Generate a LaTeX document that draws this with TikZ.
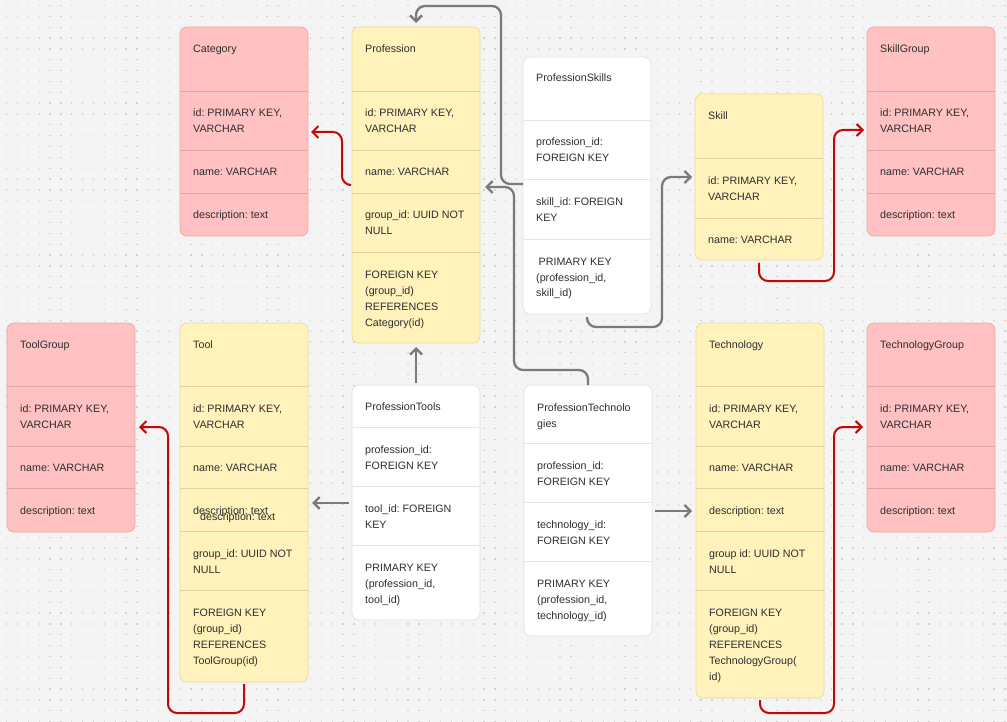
\documentclass[tikz,border=0pt]{standalone}
\usepackage{fontspec}
\setmainfont{Liberation Sans}
\usepackage{tikz}
\usetikzlibrary{arrows.meta}
\frenchspacing

\definecolor{canvas}{HTML}{F4F4F4}
\definecolor{dotgrey}{HTML}{D2D2D2}
\definecolor{ink}{HTML}{2E2E2E}
\definecolor{pinkfill}{HTML}{FFC1C1}
\definecolor{pinkline}{HTML}{EBA9A9}
\definecolor{pinkrule}{HTML}{E2A4A4}
\definecolor{yelfill}{HTML}{FFF2BA}
\definecolor{yelline}{HTML}{E8DCA2}
\definecolor{yelrule}{HTML}{E0D3A0}
\definecolor{whtfill}{HTML}{FFFFFF}
\definecolor{whtline}{HTML}{E0E0E0}
\definecolor{whtrule}{HTML}{E6E6E6}
\definecolor{linkgrey}{HTML}{7A7A7A}
\definecolor{linkred}{HTML}{C40808}

\begin{document}
\begin{tikzpicture}[x=1pt, y=-1pt,
    tbl/.style={draw=#1line, fill=#1fill, rounded corners=7pt, line width=0.7pt,
      anchor=north west, inner sep=0pt, outer sep=0pt, minimum width=128pt},
    rowline/.style={draw=#1rule, line width=0.9pt},
    txt/.style={anchor=base west, align=left, inner sep=0pt, text=ink,
      font=\fontsize{10.7}{16}\selectfont},
    link/.style={draw=linkgrey, line width=2.3pt, rounded corners=9pt,
      -{Straight Barb[length=6pt,width=12pt]}},
    grouplink/.style={link, draw=linkred, line width=2pt}]

    % canvas with dot grid
    \useasboundingbox (0,0) rectangle (1007,722);
    \fill[canvas] (0,0) rectangle (1007,722);
    \foreach \k in {0,...,66}
        \draw[dotgrey, line width=1.3pt, dash pattern=on 1.3pt off 9.55pt] (6,{5.5+10.85*\k}) -- (1007,{5.5+10.85*\k});

    % Category
    \node[tbl=pink, minimum height=209pt] (category) at (180,27) {};
    \foreach \y in {91,150,193} \draw[rowline=pink] (180,\y) -- (308,\y);
    \foreach \y/\cell [count=\i] in {52.5/Category, 133/{id: PRIMARY KEY,\\VARCHAR}, 176/{name: VARCHAR}, 219/{description: text}}
        \node[txt] (category-\i) at (193,\y) {\cell};

    % Profession
    \node[tbl=yel, minimum height=316pt] (profession) at (352,27) {};
    \foreach \y in {91,150,193,252} \draw[rowline=yel] (352,\y) -- (480,\y);
    \foreach \y/\cell [count=\i] in {52.5/Profession, 133/{id: PRIMARY KEY,\\VARCHAR}, 176/{name: VARCHAR}, 235/{group\_id: UUID NOT\\NULL}, 326/{FOREIGN KEY\\(group\_id)\\REFERENCES\\Category(id)}}
        \node[txt] (profession-\i) at (365,\y) {\cell};

    % ProfessionSkills
    \node[tbl=wht, minimum height=257pt] (professionskills) at (523,57) {};
    \foreach \y in {120,179,239} \draw[rowline=wht] (523,\y) -- (651,\y);
    \foreach \y/\cell [count=\i] in {81.5/ProfessionSkills, 162/{profession\_id:\\FOREIGN KEY}, 221.5/{skill\_id: FOREIGN\\KEY}, 297/{\hspace*{2.5pt}PRIMARY KEY\\(profession\_id,\\skill\_id)}}
        \node[txt] (professionskills-\i) at (536,\y) {\cell};

    % Skill
    \node[tbl=yel, minimum height=166pt] (skill) at (695,94) {};
    \foreach \y in {158,218} \draw[rowline=yel] (695,\y) -- (823,\y);
    \foreach \y/\cell [count=\i] in {119.5/Skill, 200.5/{id: PRIMARY KEY,\\VARCHAR}, 243.5/{name: VARCHAR}}
        \node[txt] (skill-\i) at (708,\y) {\cell};

    % SkillGroup
    \node[tbl=pink, minimum height=209pt] (skillgroup) at (867,27) {};
    \foreach \y in {91,150,193} \draw[rowline=pink] (867,\y) -- (995,\y);
    \foreach \y/\cell [count=\i] in {52.5/SkillGroup, 133/{id: PRIMARY KEY,\\VARCHAR}, 176/{name: VARCHAR}, 219/{description: text}}
        \node[txt] (skillgroup-\i) at (880,\y) {\cell};

    % ToolGroup
    \node[tbl=pink, minimum height=209pt] (toolgroup) at (7,323) {};
    \foreach \y in {386,446,488} \draw[rowline=pink] (7,\y) -- (135,\y);
    \foreach \y/\cell [count=\i] in {348.5/ToolGroup, 428.5/{id: PRIMARY KEY,\\VARCHAR}, 471.5/{name: VARCHAR}, 514/{description: text}}
        \node[txt] (toolgroup-\i) at (20,\y) {\cell};

    % Tool
    \node[tbl=yel, minimum height=359pt] (tool) at (180,323) {};
    \foreach \y in {386,446,488,531,590} \draw[rowline=yel] (180,\y) -- (308,\y);
    \foreach \y/\cell [count=\i] in {348.5/Tool, 428.5/{id: PRIMARY KEY,\\VARCHAR}, 471.5/{name: VARCHAR}, 514/{description: text}, 573/{group\_id: UUID NOT\\NULL}, 664.5/{FOREIGN KEY\\(group\_id)\\REFERENCES\\ToolGroup(id)}}
        \node[txt] (tool-\i) at (193,\y) {\cell};
    \node[txt] (tool-extra) at (200,520) {description: text};

    % ProfessionTools
    \node[tbl=wht, minimum height=235pt] (proftools) at (352,385) {};
    \foreach \y in {427,486,545} \draw[rowline=wht] (352,\y) -- (480,\y);
    \foreach \y/\cell [count=\i] in {410.5/ProfessionTools, 469/{profession\_id:\\FOREIGN KEY}, 528/{tool\_id: FOREIGN\\KEY}, 603/{PRIMARY KEY\\(profession\_id,\\tool\_id)}}
        \node[txt] (proftools-\i) at (365,\y) {\cell};

    % ProfessionTechnologies
    \node[tbl=wht, minimum height=251pt] (proftech) at (524,385) {};
    \foreach \y in {443,502,561} \draw[rowline=wht] (524,\y) -- (652,\y);
    \foreach \y/\cell [count=\i] in {427/{ProfessionTechnolo\\gies}, 485/{profession\_id:\\FOREIGN KEY}, 544/{technology\_id:\\FOREIGN KEY}, 619/{PRIMARY KEY\\(profession\_id,\\technology\_id)}}
        \node[txt] (proftech-\i) at (537,\y) {\cell};

    % Technology
    \node[tbl=yel, minimum height=375pt] (technology) at (696,323) {};
    \foreach \y in {386,446,488,531,590} \draw[rowline=yel] (696,\y) -- (824,\y);
    \foreach \y/\cell [count=\i] in {348.5/Technology, 428.5/{id: PRIMARY KEY,\\VARCHAR}, 471.5/{name: VARCHAR}, 514/{description: text}, 573/{group id: UUID NOT\\NULL}, 680.5/{FOREIGN KEY\\(group\_id)\\REFERENCES\\TechnologyGroup(\\id)}}
        \node[txt] (technology-\i) at (709,\y) {\cell};

    % TechnologyGroup
    \node[tbl=pink, minimum height=209pt] (techgroup) at (867,323) {};
    \foreach \y in {386,446,488} \draw[rowline=pink] (867,\y) -- (995,\y);
    \foreach \y/\cell [count=\i] in {348.5/TechnologyGroup, 428.5/{id: PRIMARY KEY,\\VARCHAR}, 471.5/{name: VARCHAR}, 514/{description: text}}
        \node[txt] (techgroup-\i) at (880,\y) {\cell};

    % links between tables
    \draw[grouplink, shorten <=3pt, shorten >=3pt] (profession.west |- 0,185) -| (342,132) -- (category.east |- 0,132);
    \draw[link, shorten >=4pt] (professionskills.west |- 0,184) -| (501,6) -| (profession.north);
    \draw[link, shorten >=5pt] (proftech.north) |- (514,370) |- (profession.east |- 0,187);
    \draw[link, shorten <=3pt, shorten >=3pt] (professionskills.south) |- (662,327) |- (skill.west |- 0,177);
    \draw[grouplink, shorten <=3pt, shorten >=3pt] (skill.south) |- (834,281) |- (skillgroup.west |- 0,130);
    \draw[link, shorten <=2pt, shorten >=4pt] (proftools.north) -- (profession.south);
    \draw[link, shorten <=3pt, shorten >=4pt] (proftools.west |- 0,503) -- (tool.east |- 0,503);
    \draw[link, shorten <=3pt, shorten >=4pt] (proftech.east |- 0,511) -- (technology.west |- 0,511);
    \draw[grouplink, shorten <=2pt, shorten >=4pt] (tool.south) |- (168,713) |- (toolgroup.east |- 0,427);
    \draw[grouplink, shorten <=2pt, shorten >=4pt] (technology.south) |- (834,713) |- (techgroup.west |- 0,427);
\end{tikzpicture}
\end{document}
